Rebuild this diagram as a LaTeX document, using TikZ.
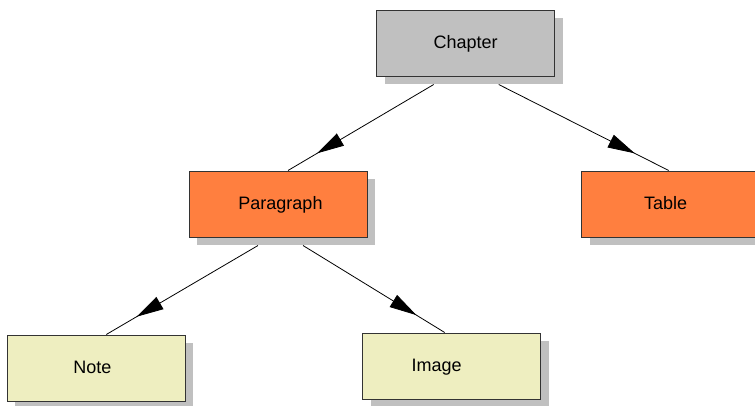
\documentclass[tikz,border=0pt]{standalone}
\usepackage{fontspec}
\setmainfont{Liberation Sans}
\usetikzlibrary{shadows,arrows.meta,decorations.markings}
\definecolor{boxgray}{HTML}{C0C0C0}
\definecolor{boxorange}{HTML}{FF7F3F}
\definecolor{boxcream}{HTML}{EEEEC0}
\definecolor{shadowgray}{HTML}{C0C0C0}
\definecolor{edgeline}{HTML}{333333}
\begin{document}
\begin{tikzpicture}[x=1pt, y=-1pt,
    box/.style={rectangle, draw=edgeline, line width=1pt, minimum width=178pt, minimum height=66pt,
        font=\fontsize{18}{22}\selectfont, text height=14pt, text depth=3pt,
        drop shadow={shadow xshift=8pt, shadow yshift=-8pt, fill=shadowgray, opacity=1}},
    link/.style={line width=0.8pt, postaction={decorate},
        decoration={markings, mark=at position 0.8 with {\arrow{Triangle[length=27pt,width=14pt]}}}}]
        \useasboundingbox (0,0) rectangle (755,405);
        \node[box, fill=boxgray] (chap) at (465.7,43) {Chapter};
        \node[box, fill=boxorange] (par) at (278,204) {\hspace*{5pt}Paragraph};
        \node[box, fill=boxorange] (tab) at (670.7,204) {\hspace*{-10pt}Table};
        \node[box, fill=boxcream] (note) at (96.3,368) {\hspace*{-8pt}Note};
        \node[box, fill=boxcream] (img) at (451.7,366) {\hspace*{-30pt}Image};
        \foreach \from/\fx/\to/\tx in {chap/-32/par/10, chap/33/tab/-2, par/-20/note/10, par/25/img/-7}
            \draw[link] ([xshift=\fx pt, yshift=-8pt]\from.south) -- ([xshift=\tx pt]\to.north);
    \end{tikzpicture}
\end{document}
